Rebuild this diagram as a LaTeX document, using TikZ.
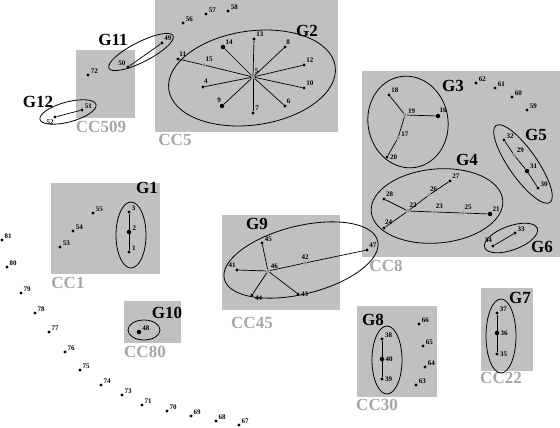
\documentclass[tikz,border=0pt]{standalone}
\usepackage{fontspec}
\setmainfont{Liberation Serif}
\definecolor{boxgray}{HTML}{C0C0C0}
\definecolor{ccgray}{HTML}{A6A6A6}
\definecolor{hubgray}{HTML}{8E8E8E}

\begin{document}
\begin{tikzpicture}[x=1pt,y=-1pt,
    pt/.style={circle,fill=black,inner sep=0pt,minimum size=3.3pt},
    bigpt/.style={pt,minimum size=4.5pt},
    hub/.style={circle,fill=hubgray,inner sep=0pt,minimum size=3.8pt},
    lbl/.style={font=\fontsize{7}{8}\selectfont\bfseries,inner sep=0.4pt,label distance=0.6pt},
    grp/.style={font=\fontsize{17}{18}\selectfont\bfseries,inner sep=0pt},
    cc/.style={font=\fontsize{17}{18}\selectfont\bfseries,text=ccgray,inner sep=0pt},
    ring/.style={line width=0.8pt},
    edge/.style={line width=0.7pt}]
    \useasboundingbox (0,0) rectangle (560,428);

    % component boxes
    \fill[boxgray] (155,0) rectangle (338,132);
    \fill[boxgray] (76,50) rectangle (135,118);
    \fill[boxgray] (362,71) rectangle (560,257);
    \fill[boxgray] (51,183) rectangle (160,274);
    \fill[boxgray] (222,215) rectangle (340,310);
    \fill[boxgray] (124,301) rectangle (181,343);
    \fill[boxgray] (357,306) rectangle (437,397);
    \fill[boxgray] (481,288) rectangle (533,371);

    \node[cc] (cc5)   at (175,140) {CC5};
    \node[cc] (cc509) at (101,127) {CC509};
    \node[cc] (cc8)   at (386,266) {CC8};
    \node[cc] (cc1)   at (68,283)  {CC1};
    \node[cc] (cc45)  at (252,323) {CC45};
    \node[cc] (cc80)  at (145,352) {CC80};
    \node[cc] (cc30)  at (377,405) {CC30};
    \node[cc] (cc22)  at (501,378) {CC22};

    % group rings
    \draw[ring,rotate around={8:(252,78)}] (252,78) ellipse (84pt and 47pt);
    \draw[ring,rotate around={27:(141,52)}] (141,52) ellipse (36pt and 10pt);
    \draw[ring,rotate around={15:(68,112)}] (68,112) ellipse (29pt and 10pt);
    \draw[ring,rotate around={10:(408,122)}] (408,122) ellipse (40pt and 46pt);
    \draw[ring,rotate around={-55:(523,164)}] (523,164) ellipse (47pt and 14pt);
    \draw[ring,rotate around={5:(437,206)}] (437,206) ellipse (66pt and 37pt);
    \draw[ring,rotate around={20:(511,238)}] (511,238) ellipse (28pt and 12pt);
    \draw[ring] (131,235) ellipse (15pt and 33pt);
    \draw[ring] (144,330) ellipse (16pt and 10pt);
    \draw[ring,rotate around={14:(301,260)}] (301,260) ellipse (79pt and 34pt);
    \draw[ring] (387,360) ellipse (15pt and 34pt);
    \draw[ring] (501,336) ellipse (15pt and 37pt);

    \node[grp] (g1)  at (147,188) {G1};
    \node[grp] (g2)  at (307,31)  {G2};
    \node[grp] (g3)  at (453,86)  {G3};
    \node[grp] (g4)  at (467,160) {G4};
    \node[grp] (g5)  at (536,135) {G5};
    \node[grp] (g6)  at (542,247) {G6};
    \node[grp] (g7)  at (520,298) {G7};
    \node[grp] (g8)  at (373,320) {G8};
    \node[grp] (g9)  at (257,224) {G9};
    \node[grp] (g10) at (167,313) {G10};
    \node[grp] (g11) at (113,40)  {G11};
    \node[grp] (g12) at (38,102)  {G12};

    % CC5
    \node[hub,label={[lbl]60:5}] (p-5) at (253,77) {};
    \node[pt,label={[lbl]45:13}] (p-13) at (254,39) {};
    \node[bigpt,label={[lbl]50:14}] (p-14) at (223,47) {};
    \node[pt,label={[lbl]70:8}] (p-8) at (285,47) {};
    \node[pt,label={[lbl]70:11}] (p-11) at (178,59) {};
    \node[hub,label={[lbl]70:15}] (p-15) at (204,65) {};
    \node[pt,label={[lbl]45:12}] (p-12) at (304,65) {};
    \node[pt,label={[lbl]80:4}] (p-4) at (203,87) {};
    \node[pt,label={[lbl]45:10}] (p-10) at (304,88) {};
    \node[bigpt,label={[lbl]100:9}] (p-9) at (222,106) {};
    \node[pt,label={[lbl]45:7}] (p-7) at (253,113) {};
    \node[pt,label={[lbl]60:6}] (p-6) at (285,106) {};
    \node[pt,label={[lbl]20:56}] (p-56) at (183,23) {};
    \node[pt,label={[lbl]20:57}] (p-57) at (206,14) {};
    \node[pt,label={[lbl]20:58}] (p-58) at (228,11) {};
    \node[pt,label={[lbl]40:49}] (p-49) at (162,43) {};

    \draw[edge] (p-5) -- (p-13);
    \draw[edge] (p-5) -- (p-14);
    \draw[edge] (p-5) -- (p-8);
    \draw[edge] (p-5) -- (p-15) -- (p-11);
    \draw[edge] (p-5) -- (p-12);
    \draw[edge] (p-5) -- (p-4);
    \draw[edge] (p-5) -- (p-10);
    \draw[edge] (p-5) -- (p-9);
    \draw[edge] (p-5) -- (p-7);
    \draw[edge] (p-5) -- (p-6);

    % CC509
    \node[pt,label={[lbl]150:50}] (p-50) at (128,67) {};
    \node[pt,label={[lbl]20:72}] (p-72) at (88,75) {};
    \node[pt,label={[lbl]20:51}] (p-51) at (82,110) {};
    \node[pt,label={[lbl]250:52}] (p-52) at (55,117) {};
    \draw[edge] (p-50) -- (p-49);
    \draw[edge] (p-51) -- (p-52);

    % CC8
    \node[pt,label={[lbl]45:18}] (p-18) at (389,95) {};
    \node[hub,label={[lbl]20:19}] (p-19) at (405,115) {};
    \node[bigpt,label={[lbl]70:16}] (p-16) at (438,116) {};
    \node[hub,label={[lbl]10:17}] (p-17) at (398,138) {};
    \node[pt,label={[lbl]0:20}] (p-20) at (387,157) {};
    \node[pt,label={[lbl]20:62}] (p-62) at (476,83) {};
    \node[pt,label={[lbl]20:61}] (p-61) at (495,88) {};
    \node[pt,label={[lbl]20:60}] (p-60) at (512,97) {};
    \node[pt,label={[lbl]20:59}] (p-59) at (527,110) {};
    \node[pt,label={[lbl]30:32}] (p-32) at (504,140) {};
    \node[hub,label={[lbl]30:29}] (p-29) at (514,155) {};
    \node[bigpt,label={[lbl]30:31}] (p-31) at (527,171) {};
    \node[pt,label={[lbl]30:30}] (p-30) at (538,188) {};
    \node[pt,label={[lbl]45:27}] (p-27) at (450,181) {};
    \node[hub,label={[lbl]80:26}] (p-26) at (429,195) {};
    \node[pt,label={[lbl]50:28}] (p-28) at (384,199) {};
    \node[hub,label={[lbl]70:22}] (p-22) at (408,211) {};
    \node[hub,label={[lbl]60:23}] (p-23) at (434,212) {};
    \node[hub,label={[lbl]70:25}] (p-25) at (463,213) {};
    \node[bigpt,label={[lbl]50:21}] (p-21) at (490,214) {};
    \node[pt,label={[lbl]80:24}] (p-24) at (384,228) {};
    \node[pt,label={[lbl]30:33}] (p-33) at (515,233) {};
    \node[pt,label={[lbl]100:34}] (p-34) at (493,246) {};

    \draw[edge] (p-19) -- (p-18);
    \draw[edge] (p-19) -- (p-16);
    \draw[edge] (p-19) -- (p-17) -- (p-20);
    \draw[edge] (p-32) -- (p-29) -- (p-31) -- (p-30);
    \draw[edge] (p-22) -- (p-28);
    \draw[edge] (p-22) -- (p-24);
    \draw[edge] (p-22) -- (p-26) -- (p-27);
    \draw[edge] (p-22) -- (p-23) -- (p-25) -- (p-21);
    \draw[edge] (p-34) -- (p-33);

    % CC1
    \node[pt,label={[lbl]20:55}] (p-55) at (93,213) {};
    \node[pt,label={[lbl]20:54}] (p-54) at (73,231) {};
    \node[pt,label={[lbl]20:53}] (p-53) at (60,247) {};
    \node[pt,label={[lbl]15:3}] (p-3) at (129,212) {};
    \node[bigpt,label={[lbl]10:2}] (p-2) at (129,232) {};
    \node[pt,label={[lbl]10:1}] (p-1) at (129,252) {};
    \draw[edge] (p-3) -- (p-2) -- (p-1);

    % CC45
    \node[pt,label={[lbl]20:45}] (p-45) at (262,243) {};
    \node[pt,label={[lbl]110:41}] (p-41) at (237,270) {};
    \node[hub,label={[lbl]30:46}] (p-46) at (268,271) {};
    \node[hub,label={[lbl]90:42}] (p-42) at (305,263) {};
    \node[pt,label={[lbl]40:47}] (p-47) at (367,250) {};
    \node[pt,label={[lbl]-10:44}] (p-44) at (252,295) {};
    \node[pt,label={[lbl]0:43}] (p-43) at (298,294) {};
    \draw[edge] (p-46) -- (p-45);
    \draw[edge] (p-46) -- (p-41);
    \draw[edge] (p-46) -- (p-44);
    \draw[edge] (p-46) -- (p-43);
    \draw[edge] (p-46) -- (p-42) -- (p-47);

    % CC80
    \node[bigpt,label={[lbl]20:48}] (p-48) at (139,332) {};

    % CC30
    \node[pt,label={[lbl]10:38}] (p-38) at (382,339) {};
    \node[bigpt,label={[lbl]0:40}] (p-40) at (382,359) {};
    \node[pt,label={[lbl]0:39}] (p-39) at (382,379) {};
    \node[pt,label={[lbl]20:66}] (p-66) at (419,324) {};
    \node[pt,label={[lbl]20:65}] (p-65) at (423,346) {};
    \node[pt,label={[lbl]20:64}] (p-64) at (425,367) {};
    \node[pt,label={[lbl]20:63}] (p-63) at (416,385) {};
    \draw[edge] (p-38) -- (p-40) -- (p-39);

    % CC22
    \node[pt,label={[lbl]20:37}] (p-37) at (497,313) {};
    \node[bigpt,label={[lbl]0:36}] (p-36) at (497,333) {};
    \node[pt,label={[lbl]0:35}] (p-35) at (497,354) {};
    \draw[edge] (p-37) -- (p-36) -- (p-35);

    % singletons
    \node[pt,label={[lbl]30:81}] (p-81) at (2,240) {};
    \node[pt,label={[lbl]30:80}] (p-80) at (7,267) {};
    \node[pt,label={[lbl]30:79}] (p-79) at (21,293) {};
    \node[pt,label={[lbl]30:78}] (p-78) at (35,313) {};
    \node[pt,label={[lbl]30:77}] (p-77) at (49,332) {};
    \node[pt,label={[lbl]30:76}] (p-76) at (65,352) {};
    \node[pt,label={[lbl]30:75}] (p-75) at (80,370) {};
    \node[pt,label={[lbl]30:74}] (p-74) at (101,385) {};
    \node[pt,label={[lbl]30:73}] (p-73) at (122,395) {};
    \node[pt,label={[lbl]30:71}] (p-71) at (142,405) {};
    \node[pt,label={[lbl]30:70}] (p-70) at (167,411) {};
    \node[pt,label={[lbl]30:69}] (p-69) at (191,416) {};
    \node[pt,label={[lbl]30:68}] (p-68) at (216,421) {};
    \node[pt,label={[lbl]30:67}] (p-67) at (239,425) {};
\end{tikzpicture}
\end{document}
